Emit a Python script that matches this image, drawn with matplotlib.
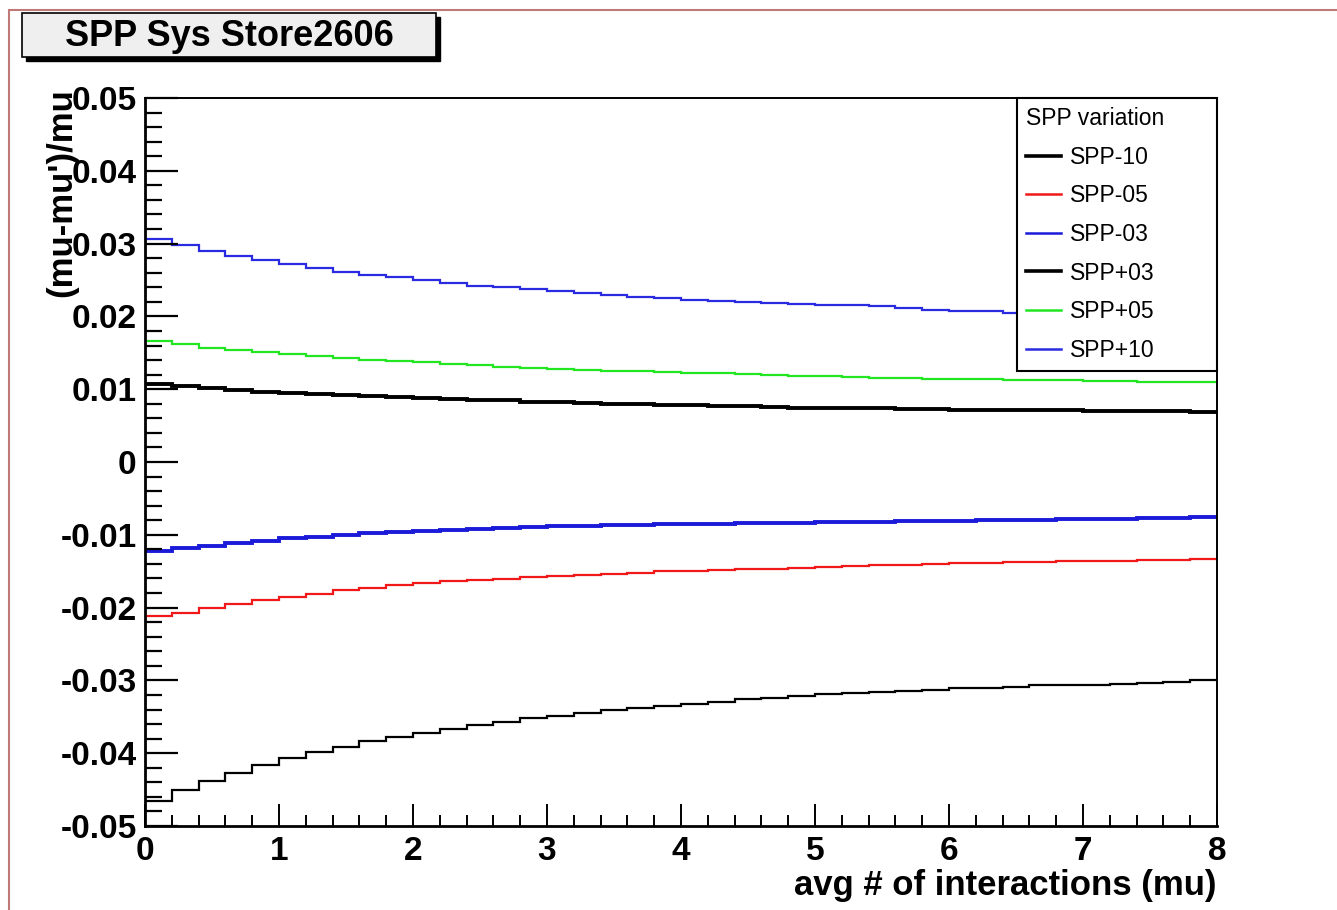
import numpy as np
import matplotlib.pyplot as plt
from matplotlib.patches import Rectangle
from matplotlib.ticker import MultipleLocator, FuncFormatter


# 40 bins of width 0.2 between mu = 0 and mu = 8
mu_edges = np.linspace(0.0, 8.0, 41)

spp_m10 = [-0.0465, -0.0451, -0.0438, -0.0427, -0.0416, -0.0407, -0.0398, -0.0391,
           -0.0383, -0.0378, -0.0372, -0.0367, -0.0361, -0.0357, -0.0352, -0.0349,
           -0.0345, -0.0341, -0.0338, -0.0335, -0.0333, -0.0329, -0.0326, -0.0324,
           -0.0322, -0.0319, -0.0317, -0.0316, -0.0314, -0.0313, -0.0311, -0.0310,
           -0.0309, -0.0307, -0.0306, -0.0306, -0.0305, -0.0303, -0.0302, -0.0300]

spp_m05 = [-0.02115, -0.0207, -0.0200, -0.01946, -0.01896, -0.01854, -0.01818, -0.0176,
           -0.01727, -0.01695, -0.01667, -0.0164, -0.01621, -0.01603, -0.01585, -0.01566,
           -0.01553, -0.0154, -0.01521, -0.01503, -0.01498, -0.01489, -0.01475, -0.01466,
           -0.01452, -0.01438, -0.01429, -0.0142, -0.01411, -0.01402, -0.01392, -0.01383,
           -0.01379, -0.01374, -0.01365, -0.01361, -0.01356, -0.01351, -0.01347, -0.01337]

spp_m03 = [-0.01218, -0.01186, -0.0115, -0.01118, -0.01081, -0.01049, -0.01026, -0.00998,
           -0.0098, -0.00957, -0.00943, -0.0093, -0.0092, -0.00907, -0.00897, -0.00884,
           -0.00874, -0.0087, -0.00865, -0.00852, -0.00852, -0.00847, -0.00843, -0.00838,
           -0.00833, -0.00829, -0.00824, -0.0082, -0.00815, -0.00811, -0.00806, -0.00801,
           -0.00797, -0.00792, -0.00788, -0.00783, -0.00778, -0.00774, -0.00769, -0.00755]

spp_p03 = [0.01067, 0.01044, 0.01016, 0.00994, 0.00966, 0.00948, 0.0093, 0.00916,
           0.00902, 0.00888, 0.00879, 0.0087, 0.00856, 0.00847, 0.00829, 0.0082,
           0.00806, 0.0080, 0.00792, 0.00785, 0.00778, 0.0077, 0.00765, 0.00751,
           0.00745, 0.00742, 0.0074, 0.00735, 0.0073, 0.00725, 0.0072, 0.00718,
           0.00715, 0.0071, 0.00708, 0.00705, 0.0070, 0.00698, 0.00695, 0.0069]

spp_p05 = [0.01667, 0.01621, 0.0157, 0.01534, 0.01506, 0.01479, 0.01451, 0.01424,
           0.01401, 0.01387, 0.01369, 0.01346, 0.01328, 0.01309, 0.01295, 0.01277,
           0.01263, 0.01254, 0.0125, 0.0124, 0.01227, 0.01218, 0.01204, 0.01195,
           0.01186, 0.01177, 0.0117, 0.0116, 0.0115, 0.01145, 0.0114, 0.01135,
           0.0113, 0.01125, 0.0112, 0.01115, 0.0111, 0.01105, 0.0110, 0.0110]

spp_p10 = [0.03063, 0.0298, 0.02898, 0.02825, 0.02775, 0.02725, 0.0266, 0.02615,
           0.0257, 0.02537, 0.025, 0.02455, 0.02422, 0.02405, 0.02379, 0.02352,
           0.0232, 0.02294, 0.0227, 0.0225, 0.0223, 0.0221, 0.0220, 0.02184,
           0.0217, 0.0216, 0.0216, 0.0214, 0.0211, 0.0209, 0.0208, 0.0207,
           0.0205, 0.0203, 0.0201, 0.0200, 0.0198, 0.0197, 0.0196, 0.0195]

labels = ["SPP-10", "SPP-05", "SPP-03", "SPP+03", "SPP+05", "SPP+10"]
colors = ["black", "#f01818", "#1a1ad8", "black", "#22e622", "#2a2ae0"]
widths = [1.6, 1.6, 2.8, 2.8, 1.6, 1.6]

plt.rcParams['font.family'] = ['Liberation Sans', 'DejaVu Sans']

fig = plt.figure(figsize=(13.37, 9.10), dpi=100)
W, H = 1337.0, 910.0
ax = fig.add_axes([145 / W, 1 - 826 / H, 1072 / W, 728 / H])

series = [spp_m10, spp_m05, spp_m03, spp_p03, spp_p05, spp_p10]
handles = []
for vals, lab, col, lw in zip(series, labels, colors, widths):
    ax.stairs(vals, mu_edges, baseline=None, color=col, linewidth=lw, label=lab)
    handles.append(plt.Line2D([], [], color=col, linewidth=2.6 if col == "black" else 1.8))

ax.set_xlim(0, 8)
ax.set_ylim(-0.05, 0.05)
ax.xaxis.set_major_locator(MultipleLocator(1))
ax.xaxis.set_minor_locator(MultipleLocator(0.2))
ax.yaxis.set_major_locator(MultipleLocator(0.01))
ax.yaxis.set_minor_locator(MultipleLocator(0.002))
ax.yaxis.set_major_formatter(FuncFormatter(lambda v, p: "0" if abs(v) < 1e-9 else f"{v:.2f}"))
ax.xaxis.set_major_formatter(FuncFormatter(lambda v, p: f"{v:.0f}"))

ax.tick_params(axis='y', which='major', direction='in', length=24, width=1.6, pad=6,
               labelsize=24)
ax.tick_params(axis='y', which='minor', direction='in', length=12, width=1.6)
ax.tick_params(axis='x', which='major', direction='in', length=16, width=1.4, pad=7,
               labelsize=24)
ax.tick_params(axis='x', which='minor', direction='in', length=8, width=1.4)
for lab in ax.get_xticklabels() + ax.get_yticklabels():
    lab.set_fontweight('bold')
for side in ['left', 'bottom']:
    ax.spines[side].set_linewidth(2.0)
for side in ['top', 'right']:
    ax.spines[side].set_linewidth(1.4)

leg = ax.legend(handles, labels, title="SPP variation", loc='upper left',
                bbox_to_anchor=(872 / 1072, 0, 200 / 1072, 1.0), mode='expand',
                fontsize=16.5, title_fontsize=16.5, frameon=True, fancybox=False,
                edgecolor='black', framealpha=1.0, handlelength=1.5,
                handletextpad=0.4, labelspacing=0.68, borderpad=0.4,
                borderaxespad=0.0, alignment='left')
leg.get_frame().set_linewidth(1.5)

# x and y axis titles (the y title overlaps the tick labels, as in the original)
fig.text(1217 / W, 1 - 885 / H, "avg # of interactions (mu)", ha='right', va='center',
         fontsize=25, fontweight='bold')
fig.text(62 / W, 1 - 88 / H, "(mu-mu')/mu", ha='center', va='top', rotation=90,
         fontsize=25, fontweight='bold')

# title box with shadow
fig.add_artist(Rectangle((26 / W, 1 - 61 / H), 414 / W, 44 / H, transform=fig.transFigure,
                         facecolor='black', edgecolor='black'))
fig.add_artist(Rectangle((22 / W, 1 - 57 / H), 414 / W, 44 / H, transform=fig.transFigure,
                         facecolor='#efefef', edgecolor='black', linewidth=1.2))
fig.text(229 / W, 1 - 36 / H, "SPP Sys Store2606", ha='center', va='center',
         fontsize=26, fontweight='bold')

# page frame
fig.add_artist(Rectangle((9 / W, -0.1), 1.2, 1.1 - 10 / H, transform=fig.transFigure,
                         fill=False, edgecolor='#c07878', linewidth=1.5))

fig.savefig("out.png", dpi=100)
